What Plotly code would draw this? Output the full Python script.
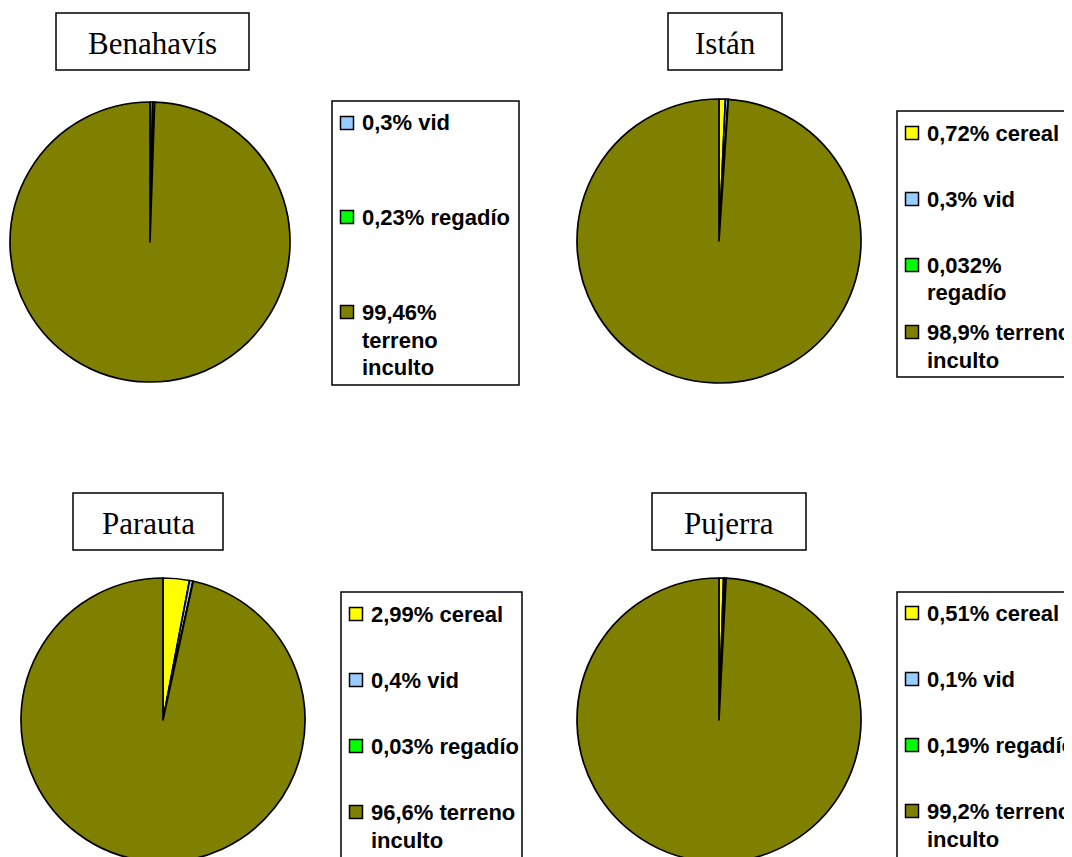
import plotly.graph_objects as go

PAGE_OFF = 8  # default page body margin
W, H = 1072, 857

# ---------------- data ----------------
municipios = ["Benahavís", "Istán", "Parauta", "Pujerra"]
categorias = ["cereal", "vid", "regadío", "terreno inculto"]
pct_benahavis = [None, 0.3, 0.23, 99.46]
pct_istan = [0.72, 0.3, 0.032, 98.9]
pct_parauta = [2.99, 0.4, 0.03, 96.6]
pct_pujerra = [0.51, 0.1, 0.19, 99.2]
colores = ["#FFFF00", "#99CCFF", "#00FF00", "#808000"]

valores = [pct_benahavis, pct_istan, pct_parauta, pct_pujerra]

# ---------------- layout (pixels, as seen in the page) ----------------
panels = [
    dict(pie=(150, 242, 140), title_box=(56, 13, 249, 70),
         legend_box=(332, 101, 519, 385), item_y=[123, 217, 312],
         breaks={"terreno inculto": ["{p}", "terreno", "inculto"]}),
    dict(pie=(719, 241, 142), title_box=(668, 13, 782, 70),
         legend_box=(897, 111, 1095, 377), item_y=[133, 199, 265, 332],
         breaks={"regadío": ["{p}", "regadío"],
                 "terreno inculto": ["{p} terreno", "inculto"]}),
    dict(pie=(163, 720, 142), title_box=(73, 493, 223, 550),
         legend_box=(341, 592, 522, 880), item_y=[614, 680, 746, 812],
         breaks={"terreno inculto": ["{p} terreno", "inculto"]}),
    dict(pie=(719, 720, 142), title_box=(652, 493, 806, 550),
         legend_box=(897, 592, 1095, 880), item_y=[613, 679, 745, 811],
         breaks={"terreno inculto": ["{p} terreno", "inculto"]}),
]

LEG_FONT = dict(family="Liberation Sans, Arial, sans-serif", size=22, color="black", weight="bold")
TITLE_FONT = dict(family="Liberation Serif, Times New Roman, serif", size=31, color="black")
LINE_H = 28
SW = 13


def fx(x):
    return (x - PAGE_OFF) / W


def fy(y):
    return 1 - (y - PAGE_OFF) / H


def fmt(v):
    return f"{v:g}".replace(".", ",") + "%"


fig = go.Figure()
shapes, annotations = [], []

for name, vals, p in zip(municipios, valores, panels):
    labs = [c for c, v in zip(categorias, vals) if v is not None]
    vs = [v for v in vals if v is not None]
    cols = [col for col, v in zip(colores, vals) if v is not None]

    cx, cy, r = p["pie"]
    y0 = max(0.0, fy(cy + r))
    y1 = fy(cy - r)
    rr = min(r, (y1 - y0) * H / 2)
    fig.add_trace(go.Pie(
        labels=labs, values=vs, name=name,
        marker=dict(colors=cols, line=dict(color="black", width=1.7)),
        sort=False, direction="clockwise", rotation=0,
        textinfo="none", showlegend=False,
        domain=dict(x=[fx(cx - rr), fx(cx + rr)], y=[y0, y1]),
    ))

    # title box
    tx0, ty0, tx1, ty1 = p["title_box"]
    shapes.append(dict(type="rect", xref="paper", yref="paper",
                       x0=fx(tx0), x1=fx(tx1), y0=fy(ty1), y1=fy(ty0),
                       line=dict(color="black", width=1.5), fillcolor="white", layer="below"))
    annotations.append(dict(xref="paper", yref="paper", x=fx((tx0 + tx1) / 2), y=fy((ty0 + ty1) / 2 + 2),
                            text=name, showarrow=False, font=TITLE_FONT,
                            xanchor="center", yanchor="middle"))

    # legend box
    lx0, ly0, lx1, ly1 = p["legend_box"]
    shapes.append(dict(type="rect", xref="paper", yref="paper",
                       x0=fx(lx0), x1=fx(lx1), y0=fy(ly1), y1=fy(ly0),
                       line=dict(color="black", width=1.5), fillcolor="white", layer="below"))
    for lab, v, col, iy in zip(labs, vs, cols, p["item_y"]):
        pct = fmt(v)
        lines = p["breaks"].get(lab)
        if lines is None:
            lines = [f"{pct} {lab}"]
        else:
            lines = [ln.replace("{p}", pct) for ln in lines]
        sx = lx0 + 8.5
        shapes.append(dict(type="rect", xref="paper", yref="paper",
                           x0=fx(sx), x1=fx(sx + SW), y0=fy(iy + SW / 2), y1=fy(iy - SW / 2),
                           line=dict(color="black", width=1.5), fillcolor=col, layer="above"))
        for k, ln in enumerate(lines):
            annotations.append(dict(xref="paper", yref="paper", x=fx(lx0 + 28), y=fy(iy + k * LINE_H),
                                    text=ln, showarrow=False, font=LEG_FONT,
                                    xanchor="left", yanchor="middle", align="left"))

fig.update_layout(
    width=W, height=H,
    margin=dict(l=0, r=0, t=0, b=0),
    paper_bgcolor="white", plot_bgcolor="white",
    shapes=shapes, annotations=annotations,
    showlegend=False,
)

fig.write_html("out.html")
